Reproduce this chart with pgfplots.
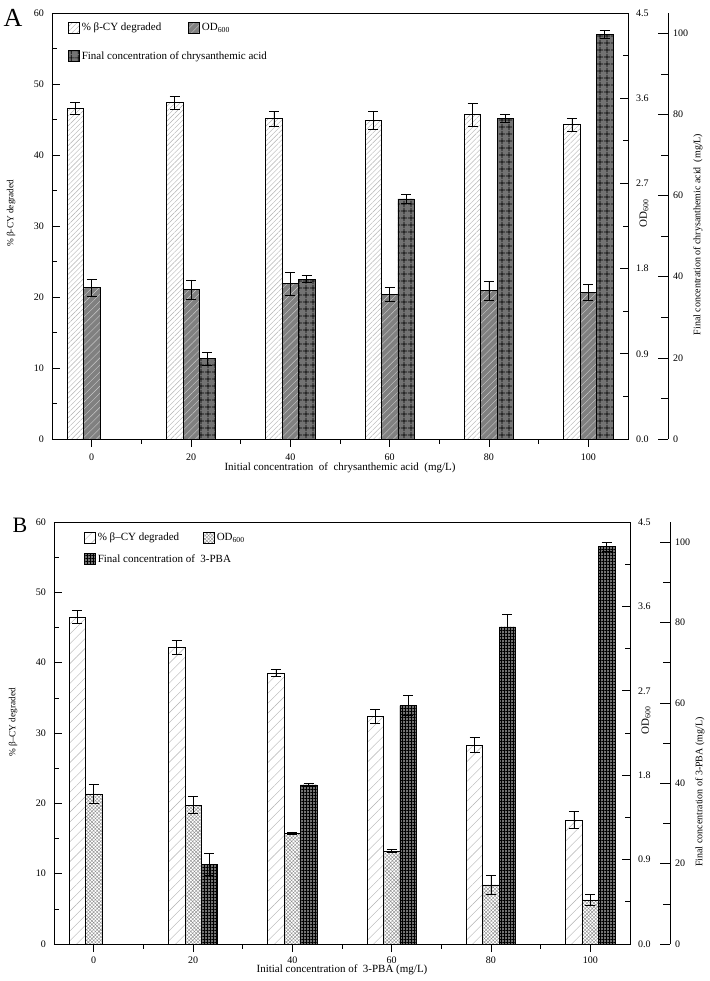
\documentclass[border=0pt]{standalone}
\usepackage{fontspec}
\setmainfont{Liberation Serif}
\usepackage{pgfplots}
\pgfplotsset{compat=1.18}
\usetikzlibrary{patterns,patterns.meta}

\tikzset{
 cyA/.style={draw=black, line width=0.6pt, fill=white, postaction={pattern={Lines[angle=45,distance=3.5pt,line width=0.4pt]}, pattern color=black!30}},
 odA/.style={draw=black, line width=0.6pt, fill=black!50, postaction={pattern={Lines[angle=45,distance=5pt,line width=0.4pt]}, pattern color=black!20}},
 fcA/.style={draw=black, line width=0.6pt, fill=black!55, postaction={pattern={Hatch[angle=0,distance=6.5pt,line width=0.6pt]}, pattern color=black}},
 cyB/.style={draw=black, line width=0.6pt, fill=white, postaction={pattern={Lines[angle=45,distance=7pt,line width=0.4pt]}, pattern color=black!30}},
 odB/.style={draw=black, line width=0.6pt, fill=white, postaction={pattern={Hatch[angle=45,distance=2.5pt,line width=0.4pt]}, pattern color=black!45}},
 fcB/.style={draw=black, line width=0.6pt, fill=black!55, postaction={pattern={Hatch[angle=0,distance=3pt,line width=0.5pt]}, pattern color=black}},
}

\pgfplotsset{
 base/.style={scale only axis, width=576pt, xmin=-8, xmax=108, ymin=0,
   tick align=inside, major tick length=8pt, minor tick length=5pt,
   tick style={black, line width=0.6pt}, axis line style={line width=0.8pt},
   tick label style={font=\fontsize{10}{12}\selectfont},
   label style={font=\fontsize{11}{13}\selectfont},
   /pgf/number format/assume math mode=true,
   ybar, bar width=3.3},
 eb/.style={error bars/.cd, y dir=both, y explicit,
   error bar style={line width=0.6pt, black},
   error mark options={rotate=90, mark size=5pt, line width=0.6pt, black}},
 mainax/.style={base, axis on top, ymax=60, ytick={0,10,...,60}, minor ytick={5,15,...,55},
   xtick={0,20,...,100}, minor xtick={10,30,...,90}, xtick pos=left, ytick pos=left,
   yticklabel style={xshift=-4.5pt},
   every axis y label/.style={at={(rel axis cs:0,0.53)}, anchor=center, xshift=-41pt, rotate=90,
     font=\fontsize{9.3}{11}\selectfont},
   legend image code/.code={\draw[##1] (0pt,-5.5pt) rectangle (11pt,5.5pt);},
   legend cell align=left},
 odax/.style={base, ymax=4.5, ytick={0,0.9,1.8,2.7,3.6,4.5}, minor ytick={0.45,1.35,2.25,3.15,4.05},
   axis y line*=right, hide x axis,
   yticklabel style={xshift=4.5pt, /pgf/number format/.cd, fixed, fixed zerofill, precision=1},
   every axis y label/.style={at={(rel axis cs:1,0.53)}, anchor=center, xshift=16pt, rotate=90,
     font=\fontsize{11}{13}\selectfont}},
 fcax/.style={base, ymax=105, ytick={0,20,...,100}, minor ytick={10,30,...,90},
   axis y line*=right, hide x axis, major tick length=10pt, minor tick length=7pt,
   y axis line style={xshift=40pt}, ytick style={xshift=40pt},
   yticklabel style={xshift=41.5pt},
   every axis y label/.style={at={(rel axis cs:1,0.48)}, anchor=center, xshift=70pt, rotate=90,
     font=\fontsize{10}{12}\selectfont}},
}

\begin{document}
\begin{tikzpicture}
\useasboundingbox (-54pt,-37pt) rectangle (655pt,944pt);

% ---------------- Panel A ----------------
\begin{axis}[odax, at={(-2pt,505pt)}, anchor=south west, height=426pt,
  ylabel={OD\textsubscript{600}}]
\addplot[odA, bar shift=0, eb] coordinates {
 (0,1.60) +- (0,0.09) (20,1.58) +- (0,0.10) (40,1.64) +- (0,0.12)
 (60,1.53) +- (0,0.075) (80,1.57) +- (0,0.10) (100,1.55) +- (0,0.08)};
\end{axis}
\begin{axis}[fcax, at={(-2pt,505pt)}, anchor=south west, height=426pt,
  ylabel={Final concentration of chrysanthemic acid\ \ (mg/L)}]
\addplot[fcA, bar shift=3.3, eb] coordinates {
 (20,19.8) +- (0,1.6) (40,39.4) +- (0,0.9) (60,59.2) +- (0,1.0)
 (80,79.1) +- (0,1.0) (100,99.7) +- (0,1.0)};
\end{axis}
\begin{axis}[mainax, at={(-2pt,505pt)}, anchor=south west, height=426pt,
  xticklabel style={yshift=-3pt},
  xlabel={Initial concentration\ \ of\ \ chrysanthemic acid\ \ (mg/L)},
  xlabel style={at={(rel axis cs:0.5,0)}, anchor=center, yshift=-29pt},
  ylabel={\% β-CY degraded},
  legend columns=2,
  legend style={at={(rel axis cs:0,1)}, anchor=north west, xshift=13pt, yshift=-6pt,
    draw=none, fill=none, row sep=15pt, font=\fontsize{11}{13}\selectfont,
    /tikz/every even column/.append style={column sep=25pt}}]
\addlegendimage{cyA}\addlegendentry{\% β-CY degraded}
\addlegendimage{odA}\addlegendentry{OD\textsubscript{600}}
\addlegendimage{fcA}\addlegendentry{\makebox[0pt][l]{Final concentration of chrysanthemic acid}}
\addplot[cyA, bar shift=-3.3, eb] coordinates {
 (0,46.6) +- (0,0.8) (20,47.4) +- (0,0.9) (40,45.1) +- (0,1.0)
 (60,44.9) +- (0,1.3) (80,45.7) +- (0,1.6) (100,44.3) +- (0,0.9)};
\end{axis}

% ---------------- Panel B ----------------
\begin{axis}[odax, at={(0pt,0pt)}, anchor=south west, height=422pt,
  ylabel={OD\textsubscript{600}}]
\addplot[odB, bar shift=0, eb] coordinates {
 (0,1.60) +- (0,0.10) (20,1.48) +- (0,0.09) (40,1.18) +- (0,0.015)
 (60,0.99) +- (0,0.015) (80,0.63) +- (0,0.10) (100,0.47) +- (0,0.06)};
\end{axis}
\begin{axis}[fcax, at={(0pt,0pt)}, anchor=south west, height=422pt,
  ylabel={Final concentration of 3-PBA (mg/L)},
  every axis y label/.append style={at={(rel axis cs:1,0.36)}}]
\addplot[fcB, bar shift=3.3, eb] coordinates {
 (20,19.8) +- (0,2.8) (40,39.6) +- (0,0.3) (60,59.3) +- (0,2.5)
 (80,78.9) +- (0,3.2) (100,98.9) +- (0,1.1)};
\end{axis}
\begin{axis}[mainax, at={(0pt,0pt)}, anchor=south west, height=422pt,
  xticklabel style={yshift=-1pt},
  xlabel={Initial concentration of\ \ 3-PBA (mg/L)},
  xlabel style={at={(rel axis cs:0.5,0)}, anchor=center, yshift=-26pt},
  ylabel={\% β–CY degraded},
  every axis y label/.append style={xshift=-2pt},
  legend columns=2,
  legend style={at={(rel axis cs:0,1)}, anchor=north west, xshift=27pt, yshift=-7pt,
    draw=none, fill=none, row sep=8pt, font=\fontsize{11}{13}\selectfont,
    /tikz/every even column/.append style={column sep=22pt}}]
\addlegendimage{cyB}\addlegendentry{\% β–CY degraded}
\addlegendimage{odB}\addlegendentry{OD\textsubscript{600}}
\addlegendimage{fcB}\addlegendentry{\makebox[0pt][l]{Final concentration of\ \ 3-PBA}}
\addplot[cyB, bar shift=-3.3, eb] coordinates {
 (0,46.5) +- (0,0.9) (20,42.2) +- (0,1.0) (40,38.5) +- (0,0.5)
 (60,32.4) +- (0,1.0) (80,28.3) +- (0,1.1) (100,17.6) +- (0,1.2)};
\end{axis}

\node[font=\fontsize{26}{28}\selectfont] at (-41pt,926pt) {A};
\node[font=\fontsize{22}{24}\selectfont] at (-34pt,419pt) {B};
\end{tikzpicture}
\end{document}
